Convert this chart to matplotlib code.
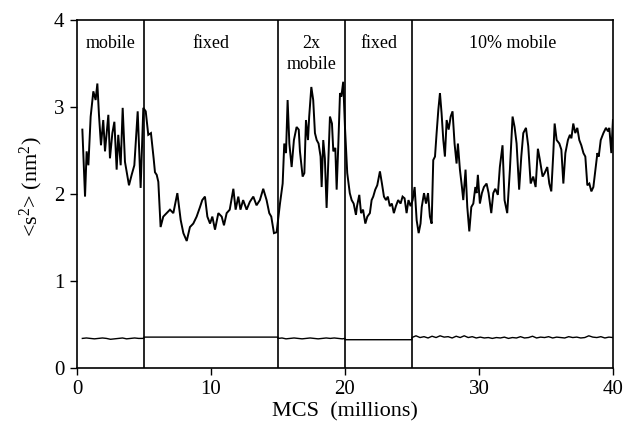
import matplotlib
matplotlib.use("Agg")
import matplotlib.pyplot as plt

# ---------------- data ----------------
mcs_upper = [0.40, 0.60, 0.72, 0.85, 0.92, 1.02, 1.22, 1.39, 1.52, 1.64, 1.79, 1.96, 2.09, 2.34, 2.46,
             2.64, 2.79, 2.96, 3.08, 3.26, 3.41, 3.58, 3.88, 4.08, 4.28, 4.53, 4.75, 4.95, 5.13, 5.32,
             5.52, 5.72, 5.82, 5.95, 6.07, 6.24, 6.44, 6.69, 6.94, 7.19, 7.49, 7.74, 7.94, 8.19, 8.43,
             8.68, 8.93, 9.18, 9.35, 9.55, 9.73, 9.93, 10.1, 10.3, 10.55, 10.8, 10.97, 11.17, 11.4,
             11.67, 11.84, 12.04, 12.2, 12.4, 12.66, 12.9, 13.16, 13.4, 13.65, 13.9, 14.15, 14.35,
             14.5, 14.7, 14.9, 15.15, 15.35, 15.47, 15.6, 15.72, 15.85, 16.02, 16.19, 16.39, 16.55,
             16.64, 16.84, 16.97, 17.09, 17.24, 17.33, 17.49, 17.63, 17.76, 17.89, 18.03, 18.18,
             18.26, 18.38, 18.5, 18.63, 18.88, 19.03, 19.13, 19.28, 19.38, 19.5, 19.63, 19.73, 19.87,
             20.0, 20.17, 20.36, 20.5, 20.65, 20.82, 20.9, 21.07, 21.2, 21.35, 21.52, 21.67, 21.86,
             21.99, 22.11, 22.26, 22.41, 22.61, 22.76, 22.91, 23.06, 23.2, 23.35, 23.5, 23.65, 23.8,
             23.97, 24.15, 24.3, 24.45, 24.6, 24.74, 24.9, 25.05, 25.2, 25.35, 25.5, 25.64, 25.73,
             25.9, 26.05, 26.2, 26.34, 26.47, 26.59, 26.72, 26.84, 26.97, 27.09, 27.21, 27.34, 27.46,
             27.59, 27.74, 27.89, 28.03, 28.18, 28.33, 28.43, 28.58, 28.73, 28.83, 29.0, 29.13, 29.28,
             29.43, 29.58, 29.73, 29.82, 29.92, 30.07, 30.22, 30.37, 30.57, 30.72, 30.92, 31.07,
             31.22, 31.41, 31.56, 31.76, 31.91, 32.11, 32.31, 32.51, 32.66, 32.81, 33.0, 33.16, 33.31,
             33.51, 33.68, 33.86, 34.05, 34.23, 34.4, 34.55, 34.75, 34.9, 35.1, 35.25, 35.4, 35.55,
             35.65, 35.8, 36.0, 36.15, 36.3, 36.45, 36.64, 36.79, 36.9, 37.04, 37.19, 37.34, 37.49,
             37.64, 37.8, 37.94, 38.09, 38.24, 38.39, 38.54, 38.69, 38.84, 38.94, 39.09, 39.29, 39.48,
             39.63, 39.73, 39.88, 40.0]
s2_upper = [2.74, 1.97, 2.49, 2.33, 2.56, 2.89, 3.18, 3.08, 3.27, 2.91, 2.56, 2.85, 2.49, 2.91, 2.41,
            2.70, 2.83, 2.28, 2.68, 2.33, 2.99, 2.37, 2.10, 2.22, 2.33, 2.95, 2.07, 2.99, 2.95, 2.68,
            2.70, 2.41, 2.25, 2.22, 2.14, 1.62, 1.74, 1.78, 1.82, 1.78, 2.01, 1.70, 1.55, 1.46, 1.62,
            1.66, 1.74, 1.85, 1.93, 1.97, 1.74, 1.66, 1.74, 1.59, 1.78, 1.74, 1.64, 1.78, 1.82,
            2.06, 1.82, 1.97, 1.82, 1.93, 1.82, 1.91, 1.97, 1.87, 1.93, 2.06, 1.93, 1.78,
            1.74, 1.55, 1.56, 1.89, 2.12, 2.58, 2.47, 3.08, 2.58, 2.31, 2.62, 2.77, 2.74,
            2.49, 2.20, 2.24, 2.85, 2.62, 2.89, 3.23, 3.08, 2.70, 2.62, 2.58, 2.43,
            2.08, 2.62, 2.41, 1.84, 2.89, 2.81, 2.49, 2.53, 2.05, 2.55, 3.16, 3.12, 3.29,
            2.77, 2.24, 2.01, 1.93, 1.89, 1.76, 1.86, 1.99, 1.78, 1.82, 1.66, 1.74, 1.78,
            1.93, 1.97, 2.05, 2.10, 2.26, 2.12, 1.97, 1.93, 1.97, 1.86, 1.89, 1.78, 1.86,
            1.93, 1.89, 1.97, 1.95, 1.78, 1.93, 1.86, 1.93, 2.08, 1.70, 1.55, 1.66, 1.85,
            2.01, 1.89, 2.01, 1.74, 1.66, 2.39, 2.43, 2.70, 2.97, 3.16, 2.93, 2.62, 2.43,
            2.85, 2.74, 2.89, 2.95, 2.58, 2.35, 2.58, 2.28, 2.08, 1.93, 2.28, 1.85, 1.57,
            1.85, 1.89, 2.08, 2.01, 2.22, 1.89, 2.01, 2.08, 2.12, 2.01, 1.78, 2.01,
            2.06, 1.99, 2.31, 2.56, 1.93, 1.78, 2.28, 2.89, 2.77, 2.58, 2.05, 2.43, 2.70,
            2.76, 2.55, 2.12, 2.20, 2.08, 2.52, 2.39, 2.20, 2.24, 2.31, 2.12, 2.03, 2.47,
            2.81, 2.62, 2.58, 2.51, 2.12, 2.47, 2.62, 2.68, 2.64, 2.81, 2.70, 2.76, 2.62,
            2.56, 2.47, 2.43, 2.10, 2.12, 2.03, 2.08, 2.28, 2.47, 2.43, 2.62, 2.70, 2.76,
            2.72, 2.76, 2.47, 2.85]

mcs_lower = [0.4, 0.7, 1.0, 1.3, 1.6, 1.9, 2.2, 2.5, 2.8, 3.1, 3.4, 3.7, 4.0, 4.3, 4.6, 4.9, 5.0,
             5.0, 15.0,
             15.0, 15.3, 15.6, 15.9, 16.2, 16.5, 16.8, 17.1, 17.4, 17.7, 18.0, 18.3, 18.6, 18.9,
             19.2, 19.5, 19.8, 20.0,
             20.0, 25.0,
             25.0, 25.3, 25.6, 25.9, 26.2, 26.5, 26.8, 27.1, 27.4, 27.7, 28.0, 28.3, 28.6, 28.9,
             29.2, 29.5, 29.8, 30.1, 30.4, 30.7, 31.0, 31.3, 31.6, 31.9, 32.2, 32.5, 32.8, 33.1,
             33.4, 33.7, 34.0, 34.3, 34.6, 34.9, 35.2, 35.5, 35.8, 36.1, 36.4, 36.7, 37.0, 37.3,
             37.6, 37.9, 38.2, 38.5, 38.8, 39.1, 39.4, 39.7, 40.0]
s2_lower = [0.34, 0.345, 0.34, 0.335, 0.34, 0.345, 0.34, 0.33, 0.335, 0.34, 0.345, 0.335, 0.34,
            0.345, 0.34, 0.34, 0.345,
            0.355, 0.355,
            0.34, 0.345, 0.335, 0.34, 0.345, 0.34, 0.335, 0.34, 0.345, 0.34, 0.335, 0.34, 0.345,
            0.34, 0.345, 0.34, 0.335, 0.34,
            0.325, 0.325,
            0.35, 0.37, 0.35, 0.36, 0.345, 0.365, 0.35, 0.37, 0.355, 0.36, 0.345, 0.365, 0.35,
            0.37, 0.35, 0.36, 0.345, 0.355, 0.345, 0.35, 0.34, 0.35, 0.345, 0.355, 0.34, 0.35,
            0.345, 0.36, 0.345, 0.35, 0.365, 0.345, 0.355, 0.35, 0.36, 0.345, 0.355, 0.35, 0.345,
            0.36, 0.35, 0.355, 0.345, 0.35, 0.37, 0.355, 0.35, 0.36, 0.345, 0.355, 0.35]

boundaries = [5, 15, 20, 25]
region_labels = ["mobile", "fixed", "2x", "fixed", "10% mobile"]
region_centers = [2.5, 10.0, 17.5, 22.5, 32.5]
second_line_label = "mobile"
second_line_center = 17.5

xticks = [0, 10, 20, 30, 40]
yticks = [0, 1, 2, 3, 4]
xlabel = "MCS  (millions)"
ylabel = r"<s$^2$> (nm$^2$)"

# ---------------- plot ----------------
plt.rcParams['font.family'] = ['Liberation Serif', 'DejaVu Serif']
plt.rcParams['mathtext.fontset'] = 'custom'
plt.rcParams['mathtext.rm'] = 'Liberation Serif'
plt.rcParams['mathtext.it'] = 'Liberation Serif:italic'

fig = plt.figure(figsize=(6.28, 4.28), dpi=100)
ax = fig.add_axes([0.1226, 0.1402, 0.8534, 0.8131])

ax.plot(mcs_upper, s2_upper, color='black', lw=1.4, solid_joinstyle='miter')
ax.plot(mcs_lower, s2_lower, color='black', lw=1.0)

for b in boundaries:
    ax.axvline(b, color='black', lw=1.2)

for lab, xc in zip(region_labels, region_centers):
    ax.text(xc, 3.68, lab, ha='center', va='baseline', fontsize=13)
ax.text(second_line_center, 3.44, second_line_label, ha='center', va='baseline', fontsize=13)

ax.set_xlim(0, 40)
ax.set_ylim(0, 4)
ax.set_xticks(xticks)
ax.set_yticks(yticks)
ax.tick_params(direction='out', length=5, width=1.0, labelsize=15, pad=4)
for sp in ax.spines.values():
    sp.set_linewidth(1.2)

ax.set_xlabel(xlabel, fontsize=16, labelpad=2)
ax.set_ylabel(ylabel, fontsize=16)
ax.yaxis.set_label_coords(-0.06, 0.52)

fig.savefig("out.png", dpi=100)
